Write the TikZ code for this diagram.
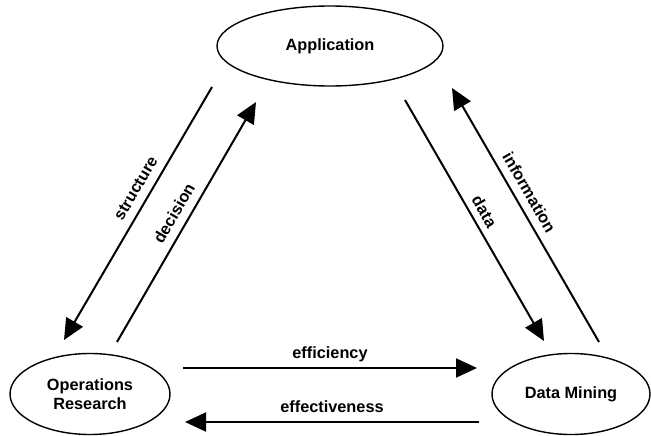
\documentclass[tikz,border=0pt]{standalone}
\usepackage{fontspec}
\setmainfont{Liberation Sans}
\usetikzlibrary{shapes.geometric,arrows.meta}
\begin{document}
\begin{tikzpicture}[x=1pt,y=-1pt,
  every node/.style={font=\fontsize{16.3}{19.5}\selectfont\bfseries},
  oval/.style={draw=black,line width=1.4pt,ellipse,inner sep=0pt,align=center},
  flow/.style={draw=black,line width=2pt,-{Triangle[length=21pt,width=19pt]}},
  lab/.style={sloped,anchor=center,inner sep=0pt}]
\useasboundingbox (0,0) rectangle (651,436);
\node[oval,minimum width=226pt,minimum height=80pt] (app) at (330,46) {Application};
\node[oval,minimum width=160pt,minimum height=81pt] (or) at (90,394) {Operations\\Research};
\node[oval,minimum width=158pt,minimum height=81pt] (dm) at (571,394) {Data Mining};
% free ends of connectors
\coordinate (s1) at (212,87);  \coordinate (s2) at (64,340);
\coordinate (d1) at (117,342); \coordinate (d2) at (256,102);
\coordinate (t1) at (405,100); \coordinate (t2) at (544,341);
\coordinate (i1) at (599,342); \coordinate (i2) at (452,88);
\coordinate (e1) at (183,368); \coordinate (e2) at (477,368);
\coordinate (f1) at (479,422); \coordinate (f2) at (185,422);
\draw[flow] (s1) -- node[lab,pos=0.43,yshift=14.6pt] (ls) {structure} (s2);
\draw[flow] (d1) -- node[lab,pos=0.505,yshift=15.3pt] (ld) {decision} (d2);
\draw[flow] (t1) -- node[lab,pos=0.49,yshift=13.3pt] (lt) {data} (t2);
\draw[flow] (i1) -- node[lab,pos=0.56,yshift=14.6pt] (li) {information} (i2);
\draw[flow] (e1) -- node[lab,pos=0.5,yshift=14pt] (le) {efficiency} (e2);
\draw[flow] (f1) -- node[lab,pos=0.5,yshift=15pt] (lf) {effectiveness} (f2);
\end{tikzpicture}
\end{document}
